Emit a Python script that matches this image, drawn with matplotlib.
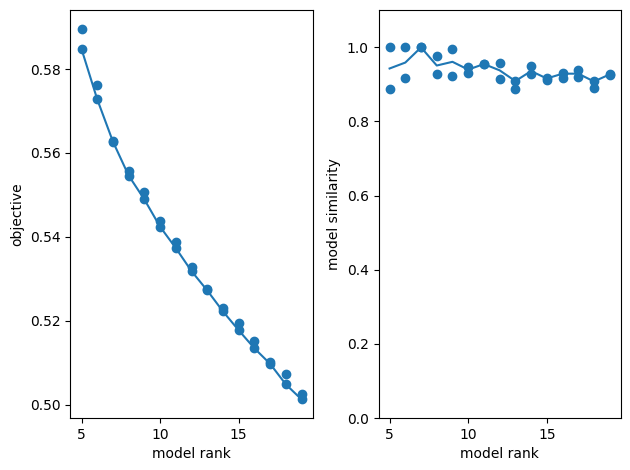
import matplotlib
matplotlib.use("Agg")
import matplotlib.pyplot as plt

# Left panel: objective per model rank (scatter) and best objective line
obj_x = [5, 5, 6, 6, 7, 7, 8, 8, 9, 9, 10, 10, 11, 11, 12, 12, 13, 13, 14, 14,
         15, 15, 16, 16, 17, 17, 18, 18, 19, 19]
obj_y = [0.5896, 0.5848, 0.5762, 0.5728, 0.5629, 0.5627, 0.5558, 0.5546,
         0.5506, 0.5489, 0.5437, 0.5424, 0.5387, 0.5373, 0.5327, 0.5318,
         0.5276, 0.5272, 0.5229, 0.5222, 0.5195, 0.5177, 0.5151, 0.5134,
         0.5101, 0.5097, 0.5072, 0.5048, 0.5026, 0.5012]
obj_line_x = [5, 6, 7, 8, 9, 10, 11, 12, 13, 14, 15, 16, 17, 18, 19]
obj_line_y = [0.5848, 0.5728, 0.5627, 0.5546, 0.5489, 0.5424, 0.5373, 0.5318,
              0.5272, 0.5222, 0.5177, 0.5134, 0.5097, 0.5048, 0.5012]

# Right panel: model similarity
sim_x = [5, 5, 6, 6, 7, 7, 8, 8, 9, 9, 10, 10, 11, 11, 12, 12, 13, 13, 14, 14,
         15, 15, 16, 16, 17, 17, 18, 18, 19, 19]
sim_y = [1.0, 0.887, 1.0, 0.918, 1.0, 1.0, 0.976, 0.927, 0.996, 0.924,
         0.947, 0.932, 0.956, 0.954, 0.959, 0.915, 0.909, 0.888, 0.949, 0.927,
         0.918, 0.913, 0.932, 0.918, 0.938, 0.920, 0.908, 0.891, 0.928, 0.926]
sim_line_x = [5, 6, 7, 8, 9, 10, 11, 12, 13, 14, 15, 16, 17, 18, 19]
sim_line_y = [0.943, 0.959, 1.0, 0.951, 0.961, 0.940, 0.955, 0.938, 0.909,
              0.936, 0.916, 0.929, 0.929, 0.908, 0.927]

fig, (ax1, ax2) = plt.subplots(1, 2, figsize=(6.3, 4.7), dpi=100)

ax1.scatter(obj_x, obj_y)
ax1.plot(obj_line_x, obj_line_y)
ax1.set_xlabel("model rank")
ax1.set_ylabel("objective")

ax2.scatter(sim_x, sim_y)
ax2.plot(sim_line_x, sim_line_y)
ax2.set_ylim(0, 1.1)
ax2.set_xlabel("model rank")
ax2.set_ylabel("model similarity")

fig.subplots_adjust(left=0.1119, right=0.9852, top=0.9781, bottom=0.1106,
                    wspace=0.2727)
fig.savefig("out.png")
